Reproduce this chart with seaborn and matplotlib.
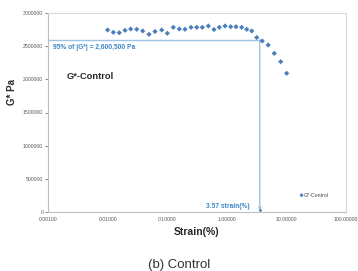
import matplotlib
matplotlib.use("Agg")
import matplotlib.pyplot as plt
import seaborn as sns
import pandas as pd
from matplotlib.ticker import FixedLocator, FuncFormatter

# ---- data ----
strain = [0.0100, 0.0125, 0.0157, 0.0196, 0.0244, 0.0308, 0.0388, 0.0495,
          0.0624, 0.0809, 0.1004, 0.1265, 0.1596, 0.199, 0.251, 0.313,
          0.388, 0.490, 0.610, 0.749, 0.933, 1.162, 1.427, 1.778, 2.158,
          2.618, 3.175, 3.94, 4.95, 6.26, 8.02, 10.1]
g_star = [2743700, 2709000, 2703000, 2739000, 2759000, 2754000, 2729000,
          2679000, 2721000, 2744000, 2694000, 2784000, 2759000, 2754000,
          2784000, 2784000, 2784000, 2804000, 2751000, 2784000, 2804000,
          2793000, 2793000, 2784000, 2754000, 2729000, 2631000, 2578000,
          2518000, 2392000, 2266000, 2091000]
series_name = "G*-Control"
threshold_g = 2600500
threshold_strain = 3.57
x_ticks = [0.001, 0.01, 0.1, 1, 10, 100]
y_ticks = [0, 500000, 1000000, 1500000, 2000000, 2500000, 3000000]

df = pd.DataFrame({"Strain": strain, "G": g_star})

sns.set_style("white")
plt.rcParams["font.family"] = ["Liberation Sans", "DejaVu Sans"]

fig = plt.figure(figsize=(3.58, 2.71), dpi=100)
ax = fig.add_axes([48/358, 1-212/271, 298/358, 199/271])

marker_col = "#4A7EBB"
line_col = "#9DC3E6"
text_col = "#3C87C6"

sns.scatterplot(data=df, x="Strain", y="G", ax=ax, marker="D", s=7,
                color=marker_col, edgecolor="none", label=series_name, zorder=3)

ax.set_xscale("log")
ax.set_xlim(x_ticks[0], x_ticks[-1])
ax.set_ylim(y_ticks[0], y_ticks[-1])
ax.xaxis.set_major_locator(FixedLocator(x_ticks))
ax.xaxis.set_minor_locator(FixedLocator([]))
ax.xaxis.set_major_formatter(FuncFormatter(lambda v, p: f"{v:.5f}"))
ax.yaxis.set_major_locator(FixedLocator(y_ticks))
ax.yaxis.set_major_formatter(FuncFormatter(lambda v, p: f"{int(v)}"))
ax.tick_params(axis="both", labelsize=3.7, colors="#595959", length=2,
               width=0.5, pad=1.5, direction="out")
ax.tick_params(axis="x", length=0, pad=3.5)
ax.tick_params(axis="y", left=True)

for side in ["left", "bottom"]:
    ax.spines[side].set_color("#BFBFBF")
    ax.spines[side].set_linewidth(0.8)
for side in ["top", "right"]:
    ax.spines[side].set_color("#D9D9D9")
    ax.spines[side].set_linewidth(0.8)

# threshold lines
ax.plot([x_ticks[0], threshold_strain], [threshold_g, threshold_g],
        color=line_col, lw=1.0, zorder=2)
ax.annotate("", xy=(threshold_strain, 20000), xytext=(threshold_strain, threshold_g),
            arrowprops=dict(arrowstyle="-|>", color=line_col, lw=1.0,
                            mutation_scale=4, shrinkA=0, shrinkB=0), zorder=2)
ax.plot([threshold_strain], [30000], marker="D", ms=1.8, color=marker_col,
        mec="none", zorder=3)

ax.text(0.017, 0.829, "95% of |G*| = 2,600,500 Pa", transform=ax.transAxes,
        fontsize=4.8, fontweight="bold", color=text_col, va="center", ha="left")
ax.text(0.678, 0.03, "3.57 strain(%)", transform=ax.transAxes,
        fontsize=4.8, fontweight="bold", color=text_col, va="center", ha="right")
ax.text(0.064, 0.683, "G*-Control", transform=ax.transAxes,
        fontsize=6.7, fontweight="bold", color="#262626", va="center", ha="left")

ax.set_xlabel("")
ax.set_ylabel("")
fig.text(197/358, 1-232/271, "Strain(%)", fontsize=7.5, fontweight="bold",
         color="#262626", ha="center", va="center")
fig.text(12/358, 1-92/271, "G* Pa", fontsize=7, fontweight="bold",
         color="#262626", ha="center", va="center", rotation=90)
fig.text(179/358, 1-268/271, "(b) Control", fontsize=9.5, color="#333333",
         ha="center", va="baseline")

leg = ax.legend(loc="center left", bbox_to_anchor=(0.835, 0.085), frameon=False,
                fontsize=3.8, handletextpad=0.1, handlelength=0.8,
                borderpad=0, markerscale=0.8)
for t in leg.get_texts():
    t.set_color("#404040")

fig.savefig("out.png", dpi=100)
